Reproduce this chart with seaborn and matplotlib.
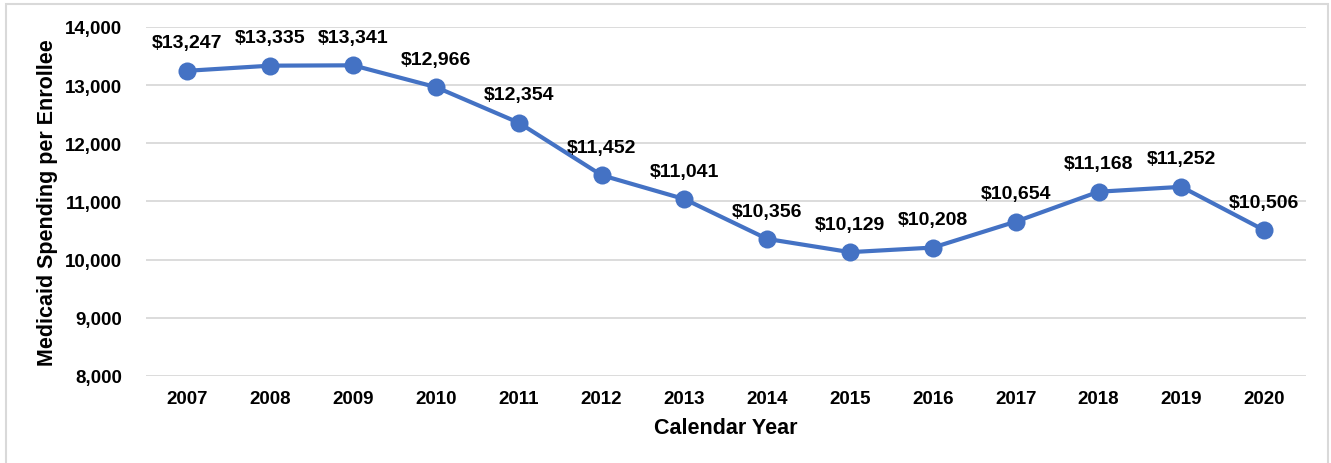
import matplotlib
matplotlib.use("Agg")
import matplotlib.pyplot as plt
from matplotlib.patches import Rectangle
import pandas as pd
import seaborn as sns

# data
years = ["2007", "2008", "2009", "2010", "2011", "2012", "2013",
         "2014", "2015", "2016", "2017", "2018", "2019", "2020"]
spending = [13247, 13335, 13341, 12966, 12354, 11452, 11041,
            10356, 10129, 10208, 10654, 11168, 11252, 10506]
y_ticks = [8000, 9000, 10000, 11000, 12000, 13000, 14000]

BLUE = "#4472C4"
GRID = "#D9D9D9"

sns.set_theme(style="white")
plt.rcParams["font.family"] = ["Liberation Sans", "DejaVu Sans"]
plt.rcParams["font.weight"] = "bold"
plt.rcParams["text.color"] = "black"
plt.rcParams["axes.labelcolor"] = "black"

df = pd.DataFrame({"year": years, "spending": spending})
df["pos"] = range(len(years))

fig = plt.figure(figsize=(13.31, 4.64), dpi=100)
ax = fig.add_axes([0.1097, 0.1875, 0.8713, 0.7522])

sns.lineplot(data=df, x="pos", y="spending", ax=ax, color=BLUE,
             linewidth=3.0, marker="o", markersize=13,
             markeredgewidth=0, zorder=3)

for x, v in zip(df["pos"], df["spending"]):
    ax.annotate(f"${v:,}", (x, v), xytext=(0, 14), textcoords="offset points",
                ha="center", va="bottom", fontsize=14, fontweight="bold",
                color="black")

ax.set_xlim(-0.5, len(years) - 0.5)
ax.set_ylim(8000, 14000)
ax.set_yticks(y_ticks)
ax.set_yticklabels([f"{t:,}" for t in y_ticks])
ax.set_xticks(df["pos"])
ax.set_xticklabels(years)
ax.tick_params(axis="both", length=0, labelsize=13.5, colors="black")
ax.tick_params(axis="y", pad=17)
ax.tick_params(axis="x", pad=10)
for lbl in ax.get_xticklabels() + ax.get_yticklabels():
    lbl.set_fontweight("bold")

ax.yaxis.grid(True, color=GRID, linewidth=1.3)
ax.xaxis.grid(False)
ax.set_axisbelow(True)
for s in ax.spines.values():
    s.set_visible(False)

ax.set_xlabel("Calendar Year", fontsize=15.5, fontweight="bold", labelpad=7)
ax.set_ylabel("Medicaid Spending per Enrollee", fontsize=15.5,
              fontweight="bold", labelpad=5)

# light frame around the chart area
fig.patches.append(Rectangle((6 / 1331, -0.05), 1322 / 1331, 1.05 - 5 / 464,
                             transform=fig.transFigure, fill=False,
                             edgecolor="#D9D9D9", linewidth=1.5))

fig.savefig("out.png", dpi=100)
